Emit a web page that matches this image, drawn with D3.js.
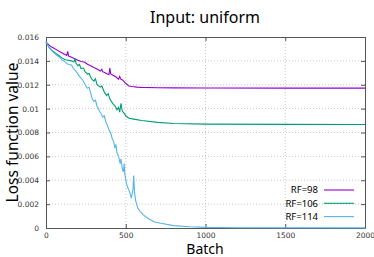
<!DOCTYPE html>
<html>
<head>
<meta charset="utf-8">
<script src="https://cdn.jsdelivr.net/npm/d3@7"></script>
<style>
  body { margin: 0; background: #fff; }
  svg { display: block; font-family: "Noto Sans", sans-serif; }
</style>
</head>
<body>
<div id="chart"></div>
<script>
// values: [batch, loss]
const rf98 = [[0,0.0156],[10,0.01545],[30,0.0152],[50,0.01505],[70,0.0149],[90,0.01475],[110,0.0146],[130,0.01445],
  [136,0.0148],[142,0.0144],[160,0.0143],[180,0.01418],[200,0.01405],[220,0.01395],[240,0.0139],[260,0.01372],
  [280,0.0136],[300,0.01345],[320,0.01332],[340,0.01315],[350,0.0133],[355,0.0131],[370,0.013],[385,0.0129],
  [395,0.01285],[400,0.0134],[406,0.0129],[420,0.0128],[440,0.01265],[455,0.01245],[462,0.0127],[470,0.01245],
  [480,0.0124],[500,0.0121],[520,0.0119],[540,0.01185],[570,0.0118],[600,0.01178],[700,0.01175],[800,0.01174],
  [1000,0.01173],[1500,0.01172],[2000,0.01172]]
const rf106 = [[0,0.0156],[20,0.0151],[40,0.01485],[60,0.01465],[80,0.01445],[100,0.01425],[120,0.0141],[140,0.01405],
  [160,0.014],[175,0.0139],[182,0.0142],[188,0.0138],[200,0.0136],[210,0.0137],[220,0.01335],[235,0.0134],
  [245,0.0131],[260,0.0129],[270,0.01295],[285,0.0125],[300,0.0123],[310,0.0125],[320,0.012],[340,0.0118],
  [350,0.0119],[365,0.0114],[380,0.0111],[390,0.01125],[400,0.0108],[420,0.0104],[435,0.0102],[445,0.0099],
  [455,0.0101],[462,0.0097],[470,0.01045],[478,0.0098],[490,0.0096],[500,0.0094],[520,0.0092],[550,0.00912],
  [600,0.009],[700,0.00885],[800,0.00875],[1000,0.0087],[1500,0.00868],[2000,0.00867]]
const rf114 = [[0,0.0156],[20,0.0151],[40,0.0148],[60,0.01455],[80,0.01435],[100,0.0141],[120,0.0139],[140,0.0137],
  [160,0.01365],[170,0.0134],[190,0.0131],[210,0.0127],[230,0.0124],[250,0.0119],[260,0.0117],[270,0.0118],
  [280,0.0113],[290,0.0108],[300,0.0106],[310,0.0107],[320,0.0102],[335,0.0098],[345,0.0096],[355,0.0093],
  [365,0.0094],[375,0.0089],[385,0.0086],[395,0.0082],[405,0.008],[415,0.0075],[425,0.0072],[432,0.0067],
  [438,0.007],[445,0.0063],[455,0.006],[465,0.0054],[470,0.0058],[478,0.005],[485,0.0047],[490,0.0054],
  [495,0.0044],[505,0.0037],[515,0.0033],[525,0.003],[535,0.0025],[545,0.0032],[550,0.0044],[555,0.003],
  [562,0.0023],[575,0.0017],[590,0.0014],[610,0.0011],[640,0.0008],[680,0.0005],[720,0.0004],[800,0.0002],
  [900,0.0001],[1000,0.00005],[1200,0.00002],[2000,0.00001]]

const seriesNames = ["RF=98", "RF=106", "RF=114"]
const seriesColors = ["#9400d3", "#009e73", "#56b4e9"]
const xTicks = [0, 500, 1000, 1500, 2000]
const yTicks = [0, 0.002, 0.004, 0.006, 0.008, 0.01, 0.012, 0.014, 0.016]
const yTickLabels = ["0", "0.002", "0.004", "0.006", "0.008", "0.01", "0.012", "0.014", "0.016"]

const width = 374, height = 257
const margin = {top: 37, right: 9, bottom: 29, left: 46}

const svg = d3.select("#chart").append("svg")
    .attr("width", width)
    .attr("height", height)

const x = d3.scaleLinear().domain([0, 2000]).range([margin.left, width - margin.right])
const y = d3.scaleLinear().domain([0, 0.016]).range([height - margin.bottom, margin.top])

// grid
svg.append("g")
    .selectAll("line")
    .data(yTicks.slice(1, -1))
    .join("line")
    .attr("x1", x(0)).attr("x2", x(2000))
    .attr("y1", d => y(d)).attr("y2", d => y(d))
    .attr("stroke", "#c8c8c8").attr("stroke-dasharray", "1,2")
svg.append("g")
    .selectAll("line")
    .data(xTicks.slice(1, -1))
    .join("line")
    .attr("x1", d => x(d)).attr("x2", d => x(d))
    .attr("y1", y(0)).attr("y2", y(0.016))
    .attr("stroke", "#c8c8c8").attr("stroke-dasharray", "1,2")

// axes, ticks inward like gnuplot
svg.append("g")
    .attr("transform", `translate(0,${y(0)})`)
    .call(d3.axisBottom(x).tickValues(xTicks).tickFormat(d3.format("d")).tickSizeInner(-4).tickSizeOuter(0).tickPadding(5))
svg.append("g")
    .attr("transform", `translate(${x(0)},0)`)
    .call(d3.axisLeft(y).tickValues(yTicks).tickFormat((d, i) => yTickLabels[i]).tickSizeInner(-4).tickSizeOuter(0).tickPadding(7))
// mirrored ticks
svg.append("g")
    .attr("transform", `translate(0,${y(0.016)})`)
    .call(d3.axisTop(x).tickValues(xTicks).tickSizeInner(-4).tickSizeOuter(0).tickFormat(""))
svg.append("g")
    .attr("transform", `translate(${x(2000)},0)`)
    .call(d3.axisRight(y).tickValues(yTicks).tickSizeInner(-4).tickSizeOuter(0).tickFormat(""))

svg.selectAll(".domain").attr("stroke", "#555")
svg.selectAll(".tick line").attr("stroke", "#555")
svg.selectAll(".tick text")
    .attr("font-family", "DejaVu Sans, sans-serif")
    .attr("font-size", "7.5px")
    .attr("fill", "#333")

// curves
const line = d3.line()
    .x(d => x(d[0]))
    .y(d => y(d[1]))

const allSeries = [rf98, rf106, rf114]
svg.append("g")
    .selectAll("path")
    .data(allSeries)
    .join("path")
    .attr("fill", "none")
    .attr("stroke", (d, i) => seriesColors[i])
    .attr("stroke-width", 1.1)
    .attr("d", line)

// legend
const legend = svg.append("g")
    .selectAll("g")
    .data(seriesNames)
    .join("g")
    .attr("transform", (d, i) => `translate(0,${190 + i * 13.3})`)
legend.append("text")
    .attr("x", 318)
    .attr("dy", "0.35em")
    .attr("text-anchor", "end")
    .attr("font-size", "9.5px")
    .text(d => d)
legend.append("line")
    .attr("x1", 324).attr("x2", 354)
    .attr("stroke", (d, i) => seriesColors[i])
    .attr("stroke-width", 1.1)

// titles
svg.append("text")
    .attr("x", 205).attr("y", 23)
    .attr("text-anchor", "middle")
    .attr("font-size", "16px")
    .text("Input: uniform")
svg.append("text")
    .attr("x", 205).attr("y", 254)
    .attr("text-anchor", "middle")
    .attr("font-size", "14px")
    .text("Batch")
svg.append("text")
    .attr("transform", `translate(18,${(margin.top + height - margin.bottom) / 2}) rotate(-90)`)
    .attr("text-anchor", "middle")
    .attr("font-size", "15.5px")
    .text("Loss function value")
</script>
</body>
</html>
